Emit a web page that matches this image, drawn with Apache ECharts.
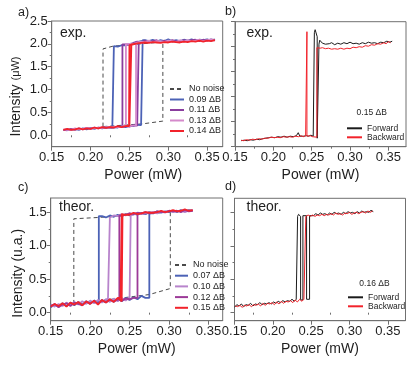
<!DOCTYPE html>
<html><head><meta charset="utf-8">
<script src="https://cdn.jsdelivr.net/npm/echarts@6/dist/echarts.min.js"></script>
<style>html,body{margin:0;padding:0;background:#fff}#c{width:415px;height:365px}</style>
</head><body><div id="c"></div>
<script>
// ---------------- data ----------------
const xTickVals = [0.15, 0.20, 0.25, 0.30, 0.35];
const xMinorVals = [0.175, 0.225, 0.275, 0.325];
const aYTickVals = [0.0, 0.5, 1.0, 1.5, 2.0, 2.5];
const aYMinorVals = [0.25, 0.75, 1.25, 1.75, 2.25];
const cYTickVals = [0.0, 0.5, 1.0, 1.5];
const cYMinorVals = [0.25, 0.75, 1.25];

// panel a (exp.) : lower and upper branches, one noisy trace per noise level
const aLowX = [0.165,0.170,0.175,0.180,0.185,0.190,0.195,0.200,0.205,0.210,0.215,0.220,0.225,0.230,0.235,0.240,0.245,0.250,0.255,0.260,0.265,0.270];
const aUpX = [0.225,0.230,0.235,0.240,0.245,0.250,0.255,0.260,0.265,0.270,0.275,0.280,0.285,0.290,0.295,0.300,0.305,0.310,0.315,0.320,0.325,0.330,0.335,0.340,0.345,0.350,0.355,0.360];
const aNames = ['0.09 ΔB', '0.11 ΔB', '0.13 ΔB', '0.14 ΔB'];
const aLow09 = [0.11,0.13,0.12,0.14,0.12,0.15,0.13,0.16,0.14,0.17,0.15,0.18,0.16,0.18,0.17,0.20,0.18,0.21,0.20,0.23,0.22,0.24];
const aLow11 = [0.12,0.11,0.14,0.12,0.15,0.13,0.16,0.14,0.17,0.15,0.17,0.16,0.18,0.17,0.19,0.18,0.20,0.19,0.22,0.21,0.23,0.23];
const aLow13 = [0.13,0.12,0.12,0.15,0.13,0.14,0.16,0.15,0.15,0.17,0.16,0.18,0.17,0.19,0.18,0.19,0.21,0.20,0.21,0.22,0.22,0.24];
const aLow14 = [0.12,0.14,0.12,0.13,0.15,0.13,0.15,0.14,0.17,0.15,0.18,0.16,0.18,0.17,0.20,0.18,0.20,0.21,0.20,0.22,0.23,0.25];
const aUp09 = [1.93,1.95,1.94,1.97,1.97,2.00,2.01,2.04,2.06,2.08,2.06,2.09,2.05,2.08,2.06,2.10,2.05,2.08,2.06,2.09,2.07,2.10,2.06,2.09,2.08,2.10,2.07,2.10];
const aUp11 = [1.92,1.94,1.96,1.96,1.99,1.98,2.02,2.05,2.03,2.07,2.04,2.06,2.08,2.04,2.07,2.05,2.08,2.06,2.05,2.08,2.06,2.08,2.09,2.06,2.09,2.07,2.10,2.08];
const aUp13 = [1.94,1.93,1.95,1.97,1.96,2.00,2.00,2.02,2.05,2.04,2.07,2.03,2.06,2.06,2.04,2.07,2.06,2.04,2.08,2.05,2.08,2.06,2.07,2.09,2.06,2.08,2.09,2.07];
const aUp14 = [1.92,1.94,1.95,1.95,1.98,1.97,1.99,2.01,2.02,2.03,2.02,2.04,2.03,2.02,2.04,2.03,2.05,2.04,2.03,2.05,2.04,2.06,2.05,2.07,2.05,2.07,2.06,2.08];
const aJumpDown = [0.228, 0.241, 0.2455, 0.2495];   // backward sweep switching power
const aJumpUp   = [0.267, 0.262, 0.2585, 0.2525];   // forward sweep switching power
const aNoNoise = [[0.216,0.19],[0.216,1.89],[0.229,1.95],[0.293,2.04],[0.293,0.31],[0.267,0.25],[0.216,0.19]];

// panel b (exp., 0.15 ΔB)
const bForward = [[0.158,0.12],[0.162,0.13],[0.166,0.12],[0.170,0.14],[0.174,0.13],[0.178,0.15],[0.182,0.14],[0.186,0.16],[0.190,0.17],[0.194,0.18],[0.198,0.19],[0.202,0.18],[0.206,0.20],[0.210,0.19],[0.214,0.21],[0.218,0.19],[0.222,0.21],[0.226,0.20],[0.230,0.22],[0.2325,0.28],[0.2345,0.21],[0.237,0.23],[0.240,0.21],[0.243,0.22],[0.246,0.21],[0.249,0.23],[0.252,0.21],[0.2535,0.22],[0.2535,2.28],[0.2545,2.34],[0.2558,2.31],[0.2572,2.20],[0.2572,0.17],[0.2585,0.16],[0.2595,0.18],[0.2595,2.05],[0.2605,2.13],[0.2625,2.14],[0.2640,2.07],[0.266,2.10],[0.268,2.05],[0.270,2.09],[0.273,2.06],[0.276,2.08],[0.280,2.04],[0.284,2.07],[0.288,2.05],[0.292,2.08],[0.296,2.06],[0.300,2.09],[0.304,2.06],[0.308,2.07],[0.312,2.05],[0.316,2.08],[0.320,2.06],[0.324,2.09],[0.328,2.07],[0.332,2.08],[0.336,2.06],[0.340,2.09],[0.344,2.08],[0.348,2.11],[0.352,2.09],[0.355,2.11]];
const bBackward = [[0.353,2.08],[0.350,2.10],[0.347,2.06],[0.344,2.08],[0.340,2.05],[0.336,2.06],[0.332,2.03],[0.328,2.04],[0.324,2.01],[0.320,2.02],[0.316,1.99],[0.312,2.00],[0.308,1.98],[0.304,1.99],[0.300,1.96],[0.296,1.97],[0.292,1.95],[0.288,1.97],[0.284,1.95],[0.280,1.96],[0.276,1.95],[0.272,1.97],[0.268,1.96],[0.264,1.98],[0.261,1.97],[0.2585,1.99],[0.2568,1.98],[0.2568,0.19],[0.2545,0.21],[0.251,0.20],[0.248,0.22],[0.2455,0.21],[0.2438,0.21],[0.2438,2.30],[0.2421,2.30],[0.2421,0.22],[0.239,0.20],[0.236,0.22],[0.233,0.20],[0.229,0.21],[0.225,0.19],[0.221,0.20],[0.217,0.19],[0.213,0.20],[0.209,0.18],[0.205,0.19],[0.201,0.18],[0.197,0.19],[0.193,0.17],[0.189,0.17],[0.185,0.15],[0.181,0.16],[0.177,0.14],[0.173,0.15],[0.169,0.13],[0.165,0.14],[0.161,0.12],[0.158,0.13]];

// panel c (theor.)
const cLowX = [0.150,0.155,0.160,0.165,0.170,0.175,0.180,0.185,0.190,0.195,0.200,0.205,0.210,0.215,0.220,0.225,0.230,0.235,0.240,0.245,0.250,0.255,0.260,0.265,0.270,0.275,0.280];
const cUpX = [0.205,0.210,0.215,0.220,0.225,0.230,0.235,0.240,0.245,0.250,0.255,0.260,0.265,0.270,0.275,0.280,0.285,0.290,0.295,0.300,0.305,0.310,0.315,0.320,0.325,0.330];
const cNames = ['0.07 ΔB', '0.10 ΔB', '0.12 ΔB', '0.15 ΔB'];
const cLow07 = [0.08,0.12,0.09,0.14,0.10,0.15,0.11,0.16,0.12,0.17,0.13,0.18,0.14,0.19,0.15,0.20,0.16,0.21,0.17,0.22,0.19,0.23,0.20,0.25,0.22,0.27,0.26];
const cLow10 = [0.12,0.09,0.13,0.10,0.15,0.11,0.16,0.12,0.17,0.13,0.18,0.14,0.19,0.15,0.20,0.16,0.21,0.17,0.22,0.18,0.23,0.20,0.24,0.22,0.25,0.25,0.28];
const cLow12 = [0.10,0.13,0.08,0.12,0.14,0.10,0.15,0.13,0.11,0.16,0.14,0.17,0.13,0.18,0.16,0.19,0.17,0.20,0.18,0.21,0.20,0.22,0.21,0.24,0.23,0.26,0.27];
const cLow15 = [0.09,0.13,0.10,0.14,0.09,0.15,0.12,0.16,0.11,0.17,0.13,0.18,0.12,0.19,0.15,0.20,0.16,0.22,0.17,0.21,0.19,0.23,0.20,0.24,0.22,0.25,0.27];
const cUp07 = [1.40,1.42,1.44,1.42,1.45,1.43,1.46,1.44,1.47,1.45,1.48,1.46,1.49,1.47,1.50,1.48,1.51,1.49,1.51,1.50,1.52,1.50,1.53,1.51,1.53,1.52];
const cUp10 = [1.42,1.41,1.43,1.44,1.42,1.45,1.44,1.47,1.45,1.48,1.46,1.49,1.47,1.48,1.49,1.50,1.48,1.51,1.49,1.52,1.50,1.51,1.52,1.50,1.52,1.53];
const cUp12 = [1.41,1.43,1.41,1.44,1.43,1.44,1.46,1.45,1.46,1.48,1.47,1.49,1.48,1.50,1.48,1.49,1.51,1.50,1.50,1.52,1.51,1.52,1.50,1.53,1.51,1.52];
const cUp15 = [1.42,1.40,1.42,1.43,1.44,1.45,1.44,1.47,1.46,1.46,1.49,1.47,1.48,1.50,1.49,1.49,1.50,1.52,1.50,1.51,1.53,1.51,1.52,1.54,1.52,1.53];
const cJumpDown = [0.211, 0.2226, 0.237, 0.2385];
const cJumpUp   = [0.275, 0.2514, 0.260, 0.241];
const cNoNoise = [[0.1793,0.13],[0.1793,1.40],[0.211,1.42],[0.3016,1.50],[0.3016,0.36],[0.275,0.27],[0.1793,0.13]];

// panel d (theor., 0.16 ΔB)
const dForward = [[0.150,0.08],[0.153,0.12],[0.156,0.10],[0.159,0.13],[0.162,0.09],[0.165,0.12],[0.168,0.11],[0.171,0.14],[0.174,0.10],[0.177,0.13],[0.180,0.12],[0.183,0.15],[0.186,0.12],[0.189,0.14],[0.192,0.13],[0.195,0.15],[0.198,0.13],[0.201,0.16],[0.204,0.14],[0.207,0.17],[0.210,0.15],[0.213,0.18],[0.216,0.16],[0.219,0.18],[0.222,0.17],[0.225,0.20],[0.228,0.17],[0.2305,0.20],[0.2323,0.18],[0.2323,1.44],[0.2335,1.47],[0.235,1.45],[0.2362,1.44],[0.2362,0.19],[0.2377,0.21],[0.2392,0.19],[0.2392,1.45],[0.2415,1.46],[0.244,1.45],[0.244,0.20],[0.246,0.18],[0.2479,0.20],[0.2479,1.45],[0.250,1.47],[0.253,1.45],[0.256,1.48],[0.259,1.46],[0.262,1.49],[0.265,1.47],[0.268,1.48],[0.271,1.46],[0.274,1.49],[0.277,1.47],[0.280,1.50],[0.283,1.48],[0.286,1.49],[0.289,1.47],[0.292,1.50],[0.295,1.48],[0.298,1.51],[0.301,1.49],[0.304,1.50],[0.307,1.48],[0.310,1.51],[0.313,1.49],[0.316,1.52],[0.319,1.50],[0.322,1.51],[0.325,1.50],[0.328,1.53],[0.331,1.51]];
const dBackward = [[0.330,1.52],[0.327,1.50],[0.324,1.52],[0.321,1.49],[0.318,1.51],[0.315,1.50],[0.312,1.48],[0.309,1.50],[0.306,1.49],[0.303,1.47],[0.300,1.50],[0.297,1.48],[0.294,1.49],[0.291,1.46],[0.288,1.48],[0.285,1.47],[0.282,1.49],[0.279,1.46],[0.276,1.48],[0.273,1.46],[0.270,1.47],[0.267,1.45],[0.264,1.47],[0.261,1.45],[0.258,1.46],[0.255,1.44],[0.252,1.46],[0.249,1.44],[0.246,1.46],[0.243,1.44],[0.2405,1.45],[0.2405,0.20],[0.238,0.17],[0.235,0.20],[0.232,0.16],[0.229,0.19],[0.226,0.15],[0.223,0.18],[0.220,0.16],[0.217,0.17],[0.214,0.14],[0.211,0.17],[0.208,0.13],[0.205,0.16],[0.202,0.12],[0.199,0.15],[0.196,0.13],[0.193,0.14],[0.190,0.11],[0.187,0.14],[0.184,0.10],[0.181,0.13],[0.178,0.11],[0.175,0.12],[0.172,0.09],[0.169,0.12],[0.166,0.10],[0.163,0.11],[0.160,0.08],[0.157,0.11],[0.154,0.09],[0.151,0.10]];

// ---------------- helpers ----------------
const FONT = "'Liberation Sans', Arial, Helvetica, sans-serif";
const AX = '#707070';
const TXT = '#1e1e1e';

// build one hysteresis trace: forward along lower branch, jump up, upper branch; back along upper, jump down, lower branch
function hysteresis(lowX, lowY, upX, upY, xDown, xUp) {
  const pts = [];
  let last = null;
  for (let i = 0; i < lowX.length; i++) if (lowX[i] < xUp) { pts.push([lowX[i], lowY[i]]); last = lowY[i]; }
  let k = upX.findIndex(x => x > xUp);
  pts.push([xUp, last]); pts.push([xUp, upY[k]]);
  for (let i = k; i < upX.length; i++) pts.push([upX[i], upY[i]]);
  let lastU = null;
  for (let i = upX.length - 1; i >= 0; i--) if (upX[i] > xDown) { pts.push([upX[i], upY[i]]); lastU = upY[i]; }
  let j = -1;
  for (let i = 0; i < lowX.length; i++) if (lowX[i] < xDown) j = i;
  pts.push([xDown, lastU]); pts.push([xDown, lowY[j]]);
  for (let i = j; i >= 0; i--) pts.push([lowX[i], lowY[i]]);
  return pts;
}

function mainX(g, max, name, namePad) {
  return {type:'value', gridIndex:g, min:0.15, max:max, position:'bottom',
    axisLine:{show:true, onZero:false, lineStyle:{color:AX, width:1}},
    axisTick:{show:true, length:4, customValues:xTickVals, lineStyle:{color:AX}},
    axisLabel:{show:true, customValues:xTickVals, formatter:v=>v.toFixed(2), color:TXT, fontSize:13, fontFamily:FONT, margin:4},
    splitLine:{show:false},
    name:name, nameLocation:'middle', nameGap:21,
    nameTextStyle:{fontSize:14, color:TXT, fontFamily:FONT, padding:namePad}};
}
function minorX(g, max) {
  return {type:'value', gridIndex:g, min:0.15, max:max, position:'bottom',
    axisLine:{show:false}, axisTick:{show:true, length:2, customValues:xMinorVals, lineStyle:{color:AX}},
    axisLabel:{show:false}, splitLine:{show:false}};
}
function mainY(g, min, max, ticks, showLabels) {
  return {type:'value', gridIndex:g, min:min, max:max, position:'left',
    axisLine:{show:true, onZero:false, lineStyle:{color:AX, width:1}},
    axisTick:{show:true, length:4, customValues:ticks, lineStyle:{color:AX}},
    axisLabel:{show:showLabels, customValues:ticks, formatter:v=>v.toFixed(1), color:TXT, fontSize:13, fontFamily:FONT, margin:4},
    splitLine:{show:false}};
}
function minorY(g, min, max, ticks) {
  return {type:'value', gridIndex:g, min:min, max:max, position:'left',
    axisLine:{show:false}, axisTick:{show:true, length:2, customValues:ticks, lineStyle:{color:AX}},
    axisLabel:{show:false}, splitLine:{show:false}};
}

const gA = {left:51.7, top:21, width:171, height:125.7};
const gB = {left:235, top:21.7, width:171, height:125};
const gC = {left:50.7, top:198, width:172, height:122.7};
const gD = {left:234.5, top:198.3, width:171, height:122.4};
const frame = {show:true, borderColor:AX, borderWidth:1, backgroundColor:'transparent'};
const grids = [gA, gB, gC, gD].map(g => Object.assign({}, g, frame))
  .concat([gA, gB, gC, gD].map(g => Object.assign({}, g, {show:false})));

const xMax = [0.37, 0.373, 0.368, 0.373];
const yRange = [[-0.25, 2.5], [0, 2.5], [-0.12, 1.71], [-0.12, 1.71]];
const xAxes = [
  mainX(0, xMax[0], 'Power (mW)', [0,0,0,12]), mainX(1, xMax[1], 'Power (mW)', [0,0,0,0]),
  mainX(2, xMax[2], 'Power (mW)', [0,0,0,0]), mainX(3, xMax[3], 'Power (mW)', [0,0,0,0]),
  minorX(4, xMax[0]), minorX(5, xMax[1]), minorX(6, xMax[2]), minorX(7, xMax[3])];
const yAxes = [
  mainY(0, yRange[0][0], yRange[0][1], aYTickVals, true),
  mainY(1, yRange[1][0], yRange[1][1], aYTickVals, false),
  mainY(2, yRange[2][0], yRange[2][1], cYTickVals, true),
  mainY(3, yRange[3][0], yRange[3][1], cYTickVals, false),
  minorY(4, yRange[0][0], yRange[0][1], aYMinorVals),
  minorY(5, yRange[1][0], yRange[1][1], aYMinorVals),
  minorY(6, yRange[2][0], yRange[2][1], cYMinorVals),
  minorY(7, yRange[3][0], yRange[3][1], cYMinorVals)];

const aColors = ['#4c62b6', '#8a3d9e', '#d58acb', '#f2232b'];
const cColors = ['#4c62b6', '#b884cc', '#9c3a98', '#f2232b'];
const BLACK = '#1b1b1b', RED = '#f2232b', DASH = '#4a4a4a';

const series = [];
function line(name, p, data, color, width, dashed, z) {
  series.push({type:'line', name:name, xAxisIndex:p, yAxisIndex:p, data:data,
    symbol:'none', showSymbol:false, animation:false, z:z||2,
    lineStyle:{color:color, width:width, type: dashed ? [4,3] : 'solid'},
    itemStyle:{color:color}});
}
line('No noise', 0, aNoNoise, DASH, 1, true, 1);
const aLows = [aLow09, aLow11, aLow13, aLow14], aUps = [aUp09, aUp11, aUp13, aUp14];
for (let i = 0; i < 4; i++) line(aNames[i], 0, hysteresis(aLowX, aLows[i], aUpX, aUps[i], aJumpDown[i], aJumpUp[i]), aColors[i], 1.8, false, 2 + i);
line('Forward', 1, bForward, BLACK, 1, false, 2);
line('Backward', 1, bBackward, RED, 1, false, 3);
line('No noise', 2, cNoNoise, DASH, 1, true, 1);
const cLows = [cLow07, cLow10, cLow12, cLow15], cUps = [cUp07, cUp10, cUp12, cUp15];
for (let i = 0; i < 4; i++) line(cNames[i], 2, hysteresis(cLowX, cLows[i], cUpX, cUps[i], cJumpDown[i], cJumpUp[i]), cColors[i], 1.8, false, 2 + i);
line('Forward', 3, dForward, BLACK, 1, false, 2);
line('Backward', 3, dBackward, RED, 1, false, 3);

function legend(names, left, top, w, fs, gap) {
  return {data:names, orient:'vertical', left:left, top:top, padding:0, itemWidth:w, itemHeight:8,
    itemGap:gap, selectedMode:false, itemStyle:{opacity:0},
    textStyle:{fontSize:fs, color:TXT, fontFamily:FONT}};
}
const legends = [
  legend(['No noise'].concat(aNames), 169, 84.5, 14, 9, 1.5),
  legend(['Forward', 'Backward'], 346, 123.8, 15, 8.5, 0),
  legend(['No noise'].concat(cNames), 174, 260.5, 13, 9, 1.7),
  legend(['Forward', 'Backward'], 347, 292.8, 15, 8.5, 0)];

function txt(s, x, y, size, align, extra) {
  return {type:'text', x:x, y:y, silent:true,
    style:Object.assign({text:s, fill:TXT, font:size + 'px ' + FONT, align:align, verticalAlign:'middle', textAlign:align, textVerticalAlign:'middle'}, extra || {})};
}
const graphics = [
  txt('a)', 18, 13, 12.5, 'left'), txt('b)', 225, 12, 12.5, 'left'),
  txt('c)', 18, 188, 12.5, 'left'), txt('d)', 225, 187, 12.5, 'left'),
  txt('exp.', 60, 33, 14, 'left'), txt('exp.', 246.5, 33, 14, 'left'),
  txt('theor.', 59, 207, 14, 'left'), txt('theor.', 246.5, 207, 14, 'left'),
  txt('0.15 ΔB', 371.7, 113, 8.5, 'center'), txt('0.16 ΔB', 374.5, 283.3, 8.5, 'center'),
  Object.assign(txt('{m|Intensity }{s|(μW)}', 16, 96.5, 14, 'center', {rich:{m:{fontSize:14, fontFamily:FONT, fill:TXT}, s:{fontSize:11, fontFamily:FONT, fill:TXT}}}), {rotation:Math.PI/2}),
  Object.assign(txt('Intensity (u.a.)', 18, 273.3, 14, 'center'), {rotation:Math.PI/2})
];

const chart = echarts.init(document.getElementById('c'), null, {renderer:'canvas'});
chart.setOption({
  animation:false, backgroundColor:'#ffffff',
  grid:grids, xAxis:xAxes, yAxis:yAxes, series:series, legend:legends, graphic:graphics
});
</script></body></html>
